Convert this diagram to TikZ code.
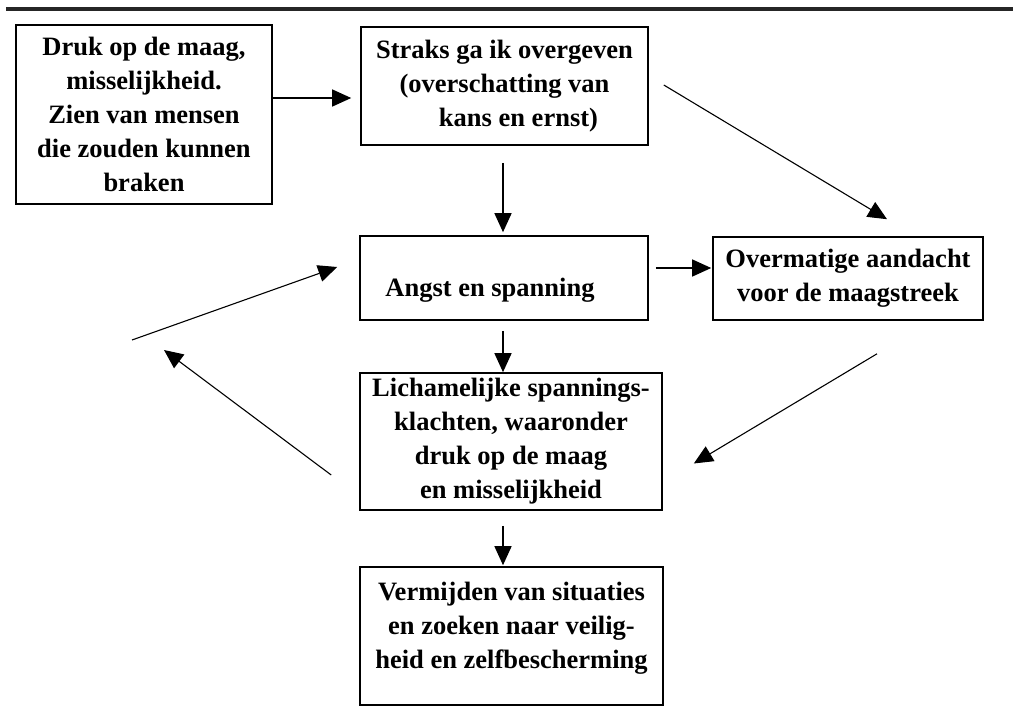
\documentclass[tikz,border=0pt]{standalone}
\usepackage{fontspec}
\setmainfont{Liberation Serif}
\usetikzlibrary{arrows.meta}
\begin{document}
\begin{tikzpicture}[x=1pt,y=-1pt,
  txt/.style={font=\fontsize{26.5}{34}\selectfont\bfseries, align=center, inner sep=0pt},
  box/.style={draw=black, line width=1.6pt, inner sep=0pt, txt},
  arr/.style={draw=black, line width=1.4pt, -{Triangle[length=19pt,width=17pt]}},
  darr/.style={arr, line width=1.1pt}
]
\useasboundingbox[fill=white] (0,0) rectangle (1013,717);
\draw[line width=3.5pt, draw=black!85] (6,9) -- (1013,9);

\node[box, minimum width=256pt, minimum height=179pt] (b1) at (144,114.5)
  {Druk op de maag,\\misselijkheid.\\Zien van mensen\\die zouden kunnen\\braken};
\node[box, minimum width=287pt, minimum height=118pt] (b2) at (504.5,86)
  {Straks ga ik overgeven\\(overschatting van\\\hspace*{28pt}kans en ernst)};
\node[box, minimum width=288pt, minimum height=84pt,
  label={[txt, xshift=-14pt, yshift=-12pt]center:Angst en spanning}] (b3) at (504,278) {};
\node[box, minimum width=270pt, minimum height=83pt] (b4) at (848,278.5)
  {Overmatige aandacht\\voor de maagstreek};
\node[box, minimum width=302pt, minimum height=137pt] (b5) at (511,441.5)
  {Lichamelijke spannings-\\klachten, waaronder\\druk op de maag\\en misselijkheid};
\node[box, minimum width=303pt, minimum height=138pt,
  label={[txt, yshift=8pt]center:Vermijden van situaties\\en zoeken naar veilig-\\heid en zelfbescherming}] (b6) at (511.5,636) {};

\coordinate (lt) at (164,350);
\coordinate (ls) at (132,340);

\draw[arr] ([yshift=16.5pt]b1.east) -- ([yshift=-12pt,xshift=-9pt]b2.west);
\draw[arr, shorten <=17pt, shorten >=3pt] ([xshift=-1.5pt]b2.south) -- ([xshift=-1pt]b3.north);
\draw[arr, shorten <=10pt] ([xshift=-1pt]b3.south) -- ([xshift=-8pt]b5.north);
\draw[arr, shorten <=15pt, shorten >=1pt] ([xshift=-8pt]b5.south) -- ([xshift=-8.5pt]b6.north);
\draw[arr, shorten <=7pt, shorten >=1pt] ([yshift=10pt]b3.east) -- ([yshift=10.5pt]b4.west);
\draw[darr] ([xshift=15pt,yshift=1pt]b2.east) -- ([xshift=39pt,yshift=17pt]b4.north);
\draw[darr] ([xshift=29pt,yshift=-33pt]b4.south) -- ([xshift=31pt,yshift=-22pt]b5.east);
\draw[darr] ([xshift=-28pt,yshift=-33.5pt]b5.west) -- (lt);
\draw[darr] (ls) -- ([xshift=-22pt,yshift=11pt]b3.west);
\end{tikzpicture}
\end{document}
